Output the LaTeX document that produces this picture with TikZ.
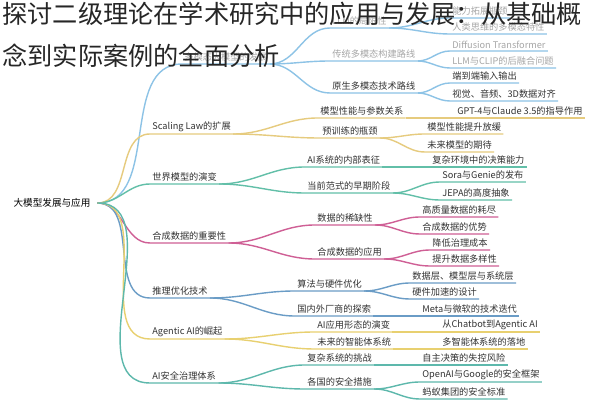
\documentclass[tikz,border=0pt]{standalone}
\usepackage{fontspec}
\setmainfont{Noto Sans CJK SC}
\definecolor{cblue}{HTML}{8DC3E6}
\definecolor{cgold}{HTML}{E6CB7E}
\definecolor{cteal}{HTML}{62BFA8}
\definecolor{cpink}{HTML}{CF5F95}
\definecolor{csteel}{HTML}{6A9CC6}
\definecolor{cyell}{HTML}{E8D070}
\definecolor{cmint}{HTML}{5DB8AC}
\tikzset{
  twig/.style={anchor=south west,inner sep=1pt,font=\fontsize{4.6}{5}\selectfont,text=black!80},
  faded/.style={twig,text=black!35},
  branch/.style={line width=0.7pt,draw=#1}
}
\begin{document}
\begin{tikzpicture}[x=0.5pt,y=-0.5pt]
  \fill[white] (0,0) rectangle (600,405);
  \node[font=\fontsize{4.8}{5}\selectfont] (root) at (52,203) {大模型发展与应用};

  % first level
  \node[faded] (mm) at (182,64) {多模态大模型的发展};
  \node[twig] (sl) at (150,134) {Scaling Law的扩展};
  \node[twig] (wm) at (150,184) {世界模型的演变};
  \node[twig] (sd) at (150,243) {合成数据的重要性};
  \node[twig] (io) at (150,298) {推理优化技术};
  \node[twig] (ag) at (150,339) {Agentic AI的崛起};
  \node[twig] (ai) at (150,383) {AI安全治理体系};

  % second level
  \node[faded] (mm1) at (330,28) {LLM的局限性};
  \node[faded] (mm2) at (330,61) {传统多模态构建路线};
  \node[twig] (mm3) at (330,93) {原生多模态技术路线};
  \node[twig] (sl1) at (318,118) {模型性能与参数关系};
  \node[twig] (sl2) at (320,138) {预训练的瓶颈};
  \node[twig] (wm1) at (305,167) {AI系统的内部表征};
  \node[twig] (wm2) at (305,193) {当前范式的早期阶段};
  \node[twig] (sd1) at (315,225) {数据的稀缺性};
  \node[twig] (sd2) at (315,259) {合成数据的应用};
  \node[twig] (io1) at (295,291) {算法与硬件优化};
  \node[twig] (io2) at (295,316) {国内外厂商的探索};
  \node[twig] (ag1) at (315,332) {AI应用形态的演变};
  \node[twig] (ag2) at (315,349) {未来的智能体系统};
  \node[twig] (ai1) at (305,365) {复杂系统的挑战};
  \node[twig] (ai2) at (305,389) {各国的安全措施};

  % third level
  \node[faded] (mm11) at (450,18) {能力拓展瓶颈};
  \node[faded] (mm12) at (450,34) {人类思维的多模态特性};
  \node[faded] (mm21) at (450,51) {Diffusion Transformer};
  \node[faded] (mm22) at (450,68) {LLM与CLIP的后融合问题};
  \node[twig] (mm31) at (450,83) {端到端输入输出};
  \node[twig] (mm32) at (450,101) {视觉、音频、3D数据对齐};
  \node[twig] (sl11) at (455,118) {GPT-4与Claude 3.5的指导作用};
  \node[twig] (sl21) at (425,134) {模型性能提升放缓};
  \node[twig] (sl22) at (425,152) {未来模型的期待};
  \node[twig] (wm11) at (430,167) {复杂环境中的决策能力};
  \node[twig] (wm21) at (440,182) {Sora与Genie的发布};
  \node[twig] (wm22) at (440,200) {JEPA的高度抽象};
  \node[twig] (sd11) at (420,217) {高质量数据的耗尽};
  \node[twig] (sd12) at (420,234) {合成数据的优势};
  \node[twig] (sd21) at (430,250) {降低治理成本};
  \node[twig] (sd22) at (430,266) {提升数据多样性};
  \node[twig] (io11) at (410,283) {数据层、模型层与系统层};
  \node[twig] (io12) at (410,299) {硬件加速的设计};
  \node[twig] (io21) at (420,316) {Meta与微软的技术迭代};
  \node[twig] (ag11) at (440,332) {从Chatbot到Agentic AI};
  \node[twig] (ag21) at (440,349) {多智能体系统的落地};
  \node[twig] (ai11) at (420,365) {自主决策的失控风险};
  \node[twig] (ai21) at (420,382) {OpenAI与Google的安全框架};
  \node[twig] (ai22) at (420,399) {蚂蚁集团的安全标准};

  % connectors
  \foreach \n/\c in {mm/cblue,sl/cgold,wm/cteal,sd/cpink,io/csteel,ag/cyell,ai/cmint}
    \draw[branch=\c] (root.east) to[out=0,in=180] (\n.south west) -- (\n.south east);
  \foreach \p/\n/\c in {mm/mm1/cblue,mm/mm2/cblue,mm/mm3/cblue,sl/sl1/cgold,sl/sl2/cgold,
      wm/wm1/cteal,wm/wm2/cteal,sd/sd1/cpink,sd/sd2/cpink,io/io1/csteel,io/io2/csteel,
      ag/ag1/cyell,ag/ag2/cyell,ai/ai1/cmint,ai/ai2/cmint,
      mm1/mm11/cblue,mm1/mm12/cblue,mm2/mm21/cblue,mm2/mm22/cblue,mm3/mm31/cblue,mm3/mm32/cblue,
      sl1/sl11/cgold,sl2/sl21/cgold,sl2/sl22/cgold,wm1/wm11/cteal,wm2/wm21/cteal,wm2/wm22/cteal,
      sd1/sd11/cpink,sd1/sd12/cpink,sd2/sd21/cpink,sd2/sd22/cpink,io1/io11/csteel,io1/io12/csteel,
      io2/io21/csteel,ag1/ag11/cyell,ag2/ag21/cyell,ai1/ai11/cmint,ai2/ai21/cmint,ai2/ai22/cmint}
    \draw[branch=\c] (\p.south east) to[out=0,in=180] (\n.south west) -- (\n.south east);

  % title over the map
  \node[anchor=north west,inner sep=0pt,align=left,font=\fontsize{12.6}{21}\selectfont,text=black!85]
    (title) at (2,2) {探讨二级理论在学术研究中的应用与发展：从基础概\\念到实际案例的全面分析};
\end{tikzpicture}
\end{document}
